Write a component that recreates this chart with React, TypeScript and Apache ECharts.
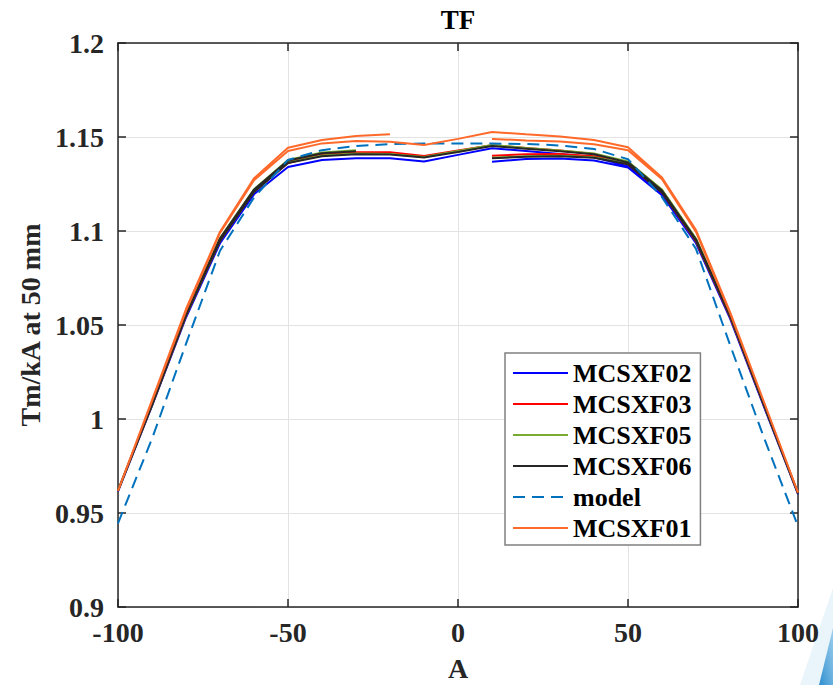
import React, { useEffect, useRef } from "react";
import * as echarts from "echarts";

// ---- data ----
const X_RIGHT_UP = [10, 20, 30, 40, 50, 60, 70, 80, 90, 100];
const X_DOWN = [100, 90, 80, 70, 60, 50, 40, 30, 20, 10, 0, -10, -20, -30, -40, -50, -60, -70, -80, -90, -100];
const X_LEFT_UP_30 = [-90, -80, -70, -60, -50, -40, -30];
const X_LEFT_UP_20 = [-90, -80, -70, -60, -50, -40, -30, -20];
const X_MODEL = [-100, -90, -80, -70, -60, -50, -40, -30, -20, -10, 0, 10, 20, 30, 40, 50, 60, 70, 80, 90, 100];

// MCSXF02
const F02_RIGHT_UP = [1.1369, 1.1383, 1.1385, 1.1375, 1.1338, 1.119, 1.0935, 1.0535, 1.0065, 0.96];
const F02_DOWN = [0.96, 1.0068, 1.054, 1.094, 1.1195, 1.1345, 1.1392, 1.141, 1.1425, 1.144, 1.1405, 1.137, 1.1387, 1.1387, 1.1378, 1.134, 1.1195, 1.0935, 1.054, 1.007, 0.9615];
// MCSXF03
const F03_RIGHT_UP = [1.14, 1.1408, 1.141, 1.1398, 1.1355, 1.1205, 1.0945, 1.0545, 1.0072, 0.9605];
const F03_DOWN = [0.9605, 1.0075, 1.055, 1.0955, 1.1215, 1.1365, 1.141, 1.1428, 1.1442, 1.1456, 1.1428, 1.1399, 1.1419, 1.1419, 1.1405, 1.1362, 1.121, 1.0948, 1.055, 1.0075, 0.962];
const F03_LEFT_UP = [1.0078, 1.0555, 1.0955, 1.1215, 1.137, 1.1412, 1.1425];
// MCSXF05
const F05_RIGHT_UP = [1.139, 1.1398, 1.14, 1.1392, 1.136, 1.121, 1.095, 1.055, 1.0075, 0.9605];
const F05_DOWN = [0.9605, 1.0078, 1.0555, 1.096, 1.122, 1.137, 1.1412, 1.1428, 1.1442, 1.1458, 1.1425, 1.1394, 1.141, 1.1412, 1.1402, 1.1365, 1.1212, 1.095, 1.0552, 1.0075, 0.962];
const F05_LEFT_UP = [1.008, 1.056, 1.0962, 1.1222, 1.1378, 1.1418, 1.143];
// MCSXF06
const F06_RIGHT_UP = [1.1387, 1.1395, 1.1398, 1.139, 1.1355, 1.1205, 1.0948, 1.0548, 1.0073, 0.9603];
const F06_DOWN = [0.9603, 1.0076, 1.0552, 1.0955, 1.1215, 1.1365, 1.1408, 1.1424, 1.1438, 1.1452, 1.142, 1.1391, 1.1407, 1.1408, 1.1398, 1.1362, 1.1208, 1.0948, 1.055, 1.0073, 0.9618];
const F06_LEFT_UP = [1.0078, 1.0558, 1.096, 1.122, 1.1375, 1.1414, 1.1424];
// model
const MODEL = [0.9445, 0.9895, 1.04, 1.0895, 1.1178, 1.1378, 1.143, 1.1452, 1.1462, 1.1465, 1.1465, 1.1465, 1.1463, 1.1455, 1.1436, 1.1382, 1.118, 1.0905, 1.0395, 0.99, 0.943];
// MCSXF01
const F01_RIGHT_UP = [1.149, 1.1482, 1.1476, 1.1462, 1.143, 1.1275, 1.0995, 1.0565, 1.009, 0.9608];
const F01_DOWN = [0.9608, 1.009, 1.057, 1.1005, 1.1285, 1.1445, 1.1484, 1.1503, 1.1514, 1.1527, 1.149, 1.1457, 1.1475, 1.1479, 1.1466, 1.1426, 1.127, 1.099, 1.0575, 1.0095, 0.9617];
const F01_LEFT_UP = [1.01, 1.0585, 1.0996, 1.128, 1.1443, 1.1484, 1.1505, 1.1514];

const Y_TICKS_MIN = 0.9;
const Y_TICKS_MAX = 1.2;
const Y_STEP = 0.05;

const FONT = "'Liberation Serif', 'Times New Roman', serif";

function zip(xs: number[], ys: number[]) {
  return xs.map((x, i) => [x, ys[i]]);
}

function path(parts: [number[], number[]][]) {
  const out: number[][] = [];
  parts.forEach(([xs, ys]) => out.push(...zip(xs, ys)));
  return out;
}

export default function App() {
  const ref = useRef<HTMLDivElement>(null);
  useEffect(() => {
    if (!ref.current) return;
    const chart = echarts.init(ref.current, undefined, { renderer: "svg" });

    const mk = (name: string, color: string, data: number[][], dashed = false) => ({
      name,
      type: "line",
      data,
      symbol: "none",
      showSymbol: false,
      xAxisIndex: 0,
      yAxisIndex: 0,
      lineStyle: { color, width: 2, type: dashed ? [12, 7] : "solid" },
      itemStyle: { color },
      z: 3,
      silent: true,
    });

    const series = [
      mk("MCSXF02", "#0000ff", path([[X_RIGHT_UP, F02_RIGHT_UP], [X_DOWN, F02_DOWN]])),
      mk("MCSXF03", "#ff0000", path([[X_RIGHT_UP, F03_RIGHT_UP], [X_DOWN, F03_DOWN], [X_LEFT_UP_30, F03_LEFT_UP]])),
      mk("MCSXF05", "#77ac30", path([[X_RIGHT_UP, F05_RIGHT_UP], [X_DOWN, F05_DOWN], [X_LEFT_UP_30, F05_LEFT_UP]])),
      mk("MCSXF06", "#262626", path([[X_RIGHT_UP, F06_RIGHT_UP], [X_DOWN, F06_DOWN], [X_LEFT_UP_30, F06_LEFT_UP]])),
      mk("model", "#0072bd", zip(X_MODEL, MODEL), true),
      mk("MCSXF01", "#ff6a2b", path([[X_RIGHT_UP, F01_RIGHT_UP], [X_DOWN, F01_DOWN], [X_LEFT_UP_20, F01_LEFT_UP]])),
    ];

    const axisLine = { show: true, onZero: false, lineStyle: { color: "#262626", width: 1.5 } };
    const tick = { show: true, inside: true, length: 8, lineStyle: { color: "#262626", width: 1.5 } };
    const label = { fontFamily: FONT, fontWeight: "bold", fontSize: 28, color: "#262626" };

    chart.setOption({
      animation: false,
      backgroundColor: "#ffffff",
      grid: { left: 118, right: 35, top: 43, bottom: 78, containLabel: false },
      xAxis: [
        {
          type: "value", min: -100, max: 100, interval: 50, position: "bottom",
          axisLine, axisTick: tick,
          axisLabel: { ...label, margin: 11 },
          splitLine: { show: true, lineStyle: { color: "#e3e3e3", width: 1 } },
        },
        {
          type: "value", min: -100, max: 100, interval: 50, position: "top",
          axisLine, axisTick: tick, axisLabel: { show: false }, splitLine: { show: false },
        },
      ],
      yAxis: [
        {
          type: "value", min: Y_TICKS_MIN, max: Y_TICKS_MAX, interval: Y_STEP, position: "left",
          axisLine, axisTick: tick,
          axisLabel: { ...label, margin: 14, formatter: (v: number) => String(parseFloat(v.toFixed(2))) },
          splitLine: { show: true, lineStyle: { color: "#e3e3e3", width: 1 } },
        },
        {
          type: "value", min: Y_TICKS_MIN, max: Y_TICKS_MAX, interval: Y_STEP, position: "right",
          axisLine, axisTick: tick, axisLabel: { show: false }, splitLine: { show: false },
        },
      ],
      legend: {
        show: true,
        orient: "vertical",
        left: 505,
        top: 353,
        selectedMode: false,
        backgroundColor: "#ffffff",
        borderColor: "#808080",
        borderWidth: 1.5,
        borderRadius: 0,
        padding: [7, 9, 4, 7],
        itemWidth: 55,
        itemHeight: 14,
        itemGap: 5,
        itemStyle: { opacity: 0 },
        data: ["MCSXF02", "MCSXF03", "MCSXF05", "MCSXF06", "model", "MCSXF01"],
        textStyle: { fontFamily: FONT, fontWeight: "bold", fontSize: 26, color: "#000000", lineHeight: 24 },
        z: 10,
      },
      graphic: [
        {
          type: "polygon", silent: true, z: 0,
          shape: { points: [[800, 685], [833, 588], [833, 685]] },
          style: { fill: "#eaf4fb" },
        },
        {
          type: "polygon", silent: true, z: 1,
          shape: { points: [[819, 685], [833, 628], [833, 685]] },
          style: {
            fill: new echarts.graphic.LinearGradient(0, 1, 1, 0, [
              { offset: 0, color: "#2f8fcf" },
              { offset: 1, color: "#9fd0ee" },
            ]),
          },
        },
        {
          type: "text", silent: true, x: 458, y: 20,
          style: {
            text: "TF", fontFamily: FONT, fontWeight: "bold", fontSize: 27, fill: "#000000",
            align: "center", verticalAlign: "middle",
          },
        },
        {
          type: "text", silent: true, x: 30, y: 325, rotation: Math.PI / 2,
          style: {
            text: "Tm/kA at 50 mm", fontFamily: FONT, fontWeight: "bold", fontSize: 28, fill: "#262626",
            align: "center", verticalAlign: "middle",
          },
        },
        {
          type: "text", silent: true, x: 458, y: 668,
          style: {
            text: "A", fontFamily: FONT, fontWeight: "bold", fontSize: 28, fill: "#262626",
            align: "center", verticalAlign: "middle",
          },
        },
      ],
      series,
    });
    return () => chart.dispose();
  }, []);
  return (
    <div
      ref={ref}
      style={{ position: "fixed", left: 0, top: 0, width: 833, height: 685, background: "#fff" }}
    />
  );
}
